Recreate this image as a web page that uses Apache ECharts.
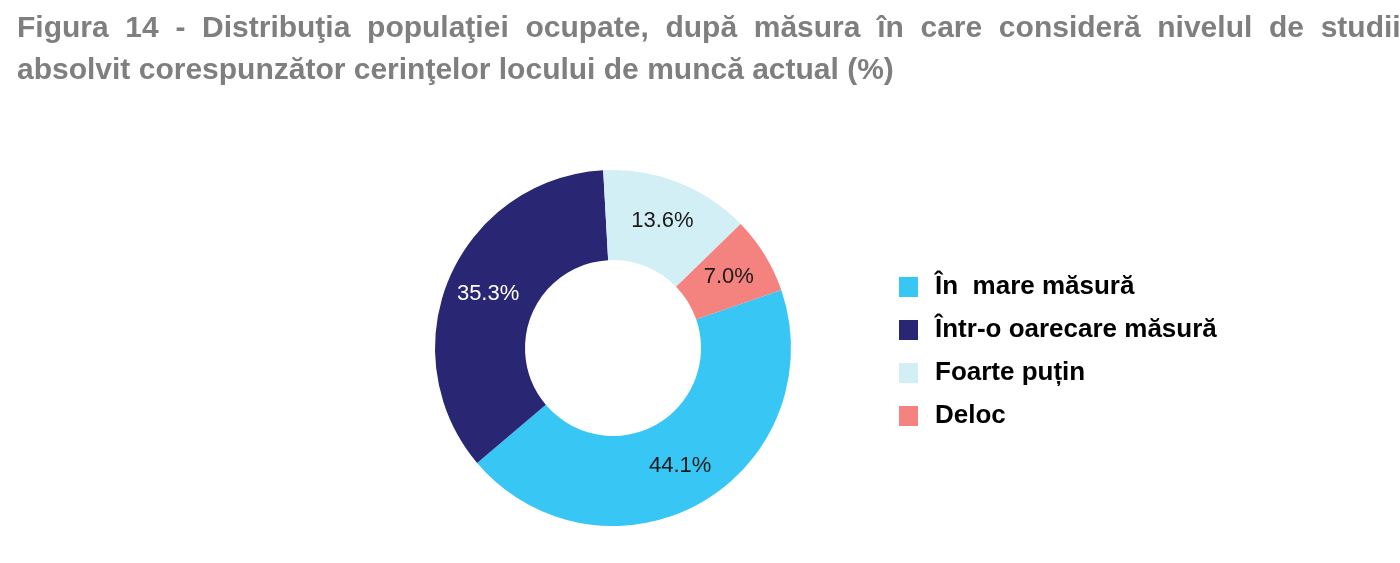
<!DOCTYPE html>
<html>
<head>
<meta charset="utf-8">
<script src="https://cdn.jsdelivr.net/npm/echarts@6/dist/echarts.min.js"></script>
<style>
html,body{margin:0;padding:0;background:#fff;}
#chart{width:1400px;height:563px;}
</style>
</head>
<body>
<div id="chart"></div>
<script>
// line 1 is justified in the original, hence the wider word spacing
const titleLines = [
  "Figura  14  -  Distribuţia  populaţiei  ocupate,  după  măsura  în  care  consideră  nivelul  de  studiile",
  "absolvit corespunzător cerinţelor locului de muncă actual (%)"
];
const categories = ["În  mare măsură", "Într-o oarecare măsură", "Foarte puțin", "Deloc"];
const values = [44.1, 35.3, 13.6, 7.0];

const palette = ["#38c6f4", "#292673", "#d2eff5", "#f4827f"];
const labelColors = ["#1a1a1a", "#ffffff", "#1a1a1a", "#1a1a1a"];

const chart = echarts.init(document.getElementById('chart'));
chart.setOption({
  animation: false,
  backgroundColor: '#ffffff',
  title: {
    text: titleLines.join('\n'),
    left: 17,
    top: 8,
    padding: 0,
    textStyle: {
      fontFamily: 'Liberation Sans, Arial, sans-serif',
      fontWeight: 'bold',
      fontSize: 30,
      lineHeight: 42,
      color: '#7f7f7f'
    }
  },
  legend: {
    orient: 'vertical',
    left: 899,
    top: 274,
    padding: 0,
    itemWidth: 19,
    itemHeight: 20,
    itemGap: 17,
    icon: 'rect',
    selectedMode: false,
    data: categories,
    textStyle: {
      fontFamily: 'Liberation Sans, Arial, sans-serif',
      fontWeight: 'bold',
      fontSize: 26,
      lineHeight: 20,
      color: '#000000',
      padding: [0, 0, 0, 12]
    }
  },
  series: [{
    type: 'pie',
    center: [613, 348],
    radius: [88, 178],
    startAngle: 19,
    clockwise: true,
    silent: true,
    label: {
      show: true,
      position: 'inside',
      fontFamily: 'Liberation Sans, Arial, sans-serif',
      fontSize: 22,
      formatter: p => p.value.toFixed(1) + '%'
    },
    labelLine: { show: false },
    data: categories.map((c, i) => ({
      name: c,
      value: values[i],
      itemStyle: { color: palette[i] },
      label: { color: labelColors[i] }
    }))
  }]
});
</script>
</body>
</html>
